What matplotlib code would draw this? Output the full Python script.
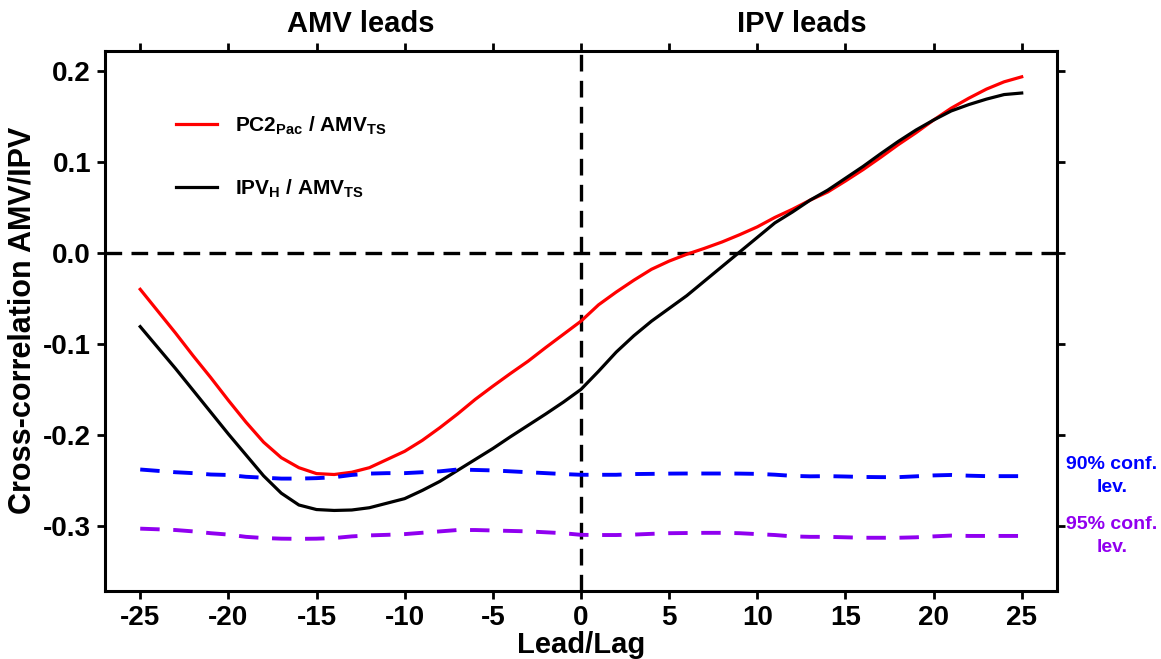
import numpy as np
import matplotlib.pyplot as plt

plt.rcParams['font.family'] = ['Liberation Sans', 'DejaVu Sans']
plt.rcParams['font.weight'] = 'bold'
plt.rcParams['axes.unicode_minus'] = False
plt.rcParams['mathtext.fontset'] = 'custom'
plt.rcParams['mathtext.rm'] = 'Liberation Sans:bold'
plt.rcParams['mathtext.it'] = 'Liberation Sans:bold'
plt.rcParams['mathtext.bf'] = 'Liberation Sans:bold'

# Lead/lag en años
lags = np.arange(-25, 26)

# Correlación cruzada PC2 Pacífico / AMV
pc2_pac = [-0.040, -0.064, -0.088, -0.113, -0.137, -0.162, -0.186, -0.208, -0.225, -0.236,
           -0.2425, -0.2435, -0.241, -0.236, -0.227, -0.218, -0.206, -0.192, -0.177, -0.161,
           -0.1465, -0.1325, -0.119, -0.104, -0.0895, -0.075, -0.057, -0.043, -0.030, -0.018,
           -0.009, -0.0015, 0.005, 0.012, 0.020, 0.0286, 0.039, 0.048, 0.058, 0.067,
           0.079, 0.0915, 0.105, 0.119, 0.132, 0.146, 0.159, 0.170, 0.180, 0.188, 0.1935]

# Correlación cruzada IPV_H / AMV
ipv_h = [-0.081, -0.104, -0.127, -0.151, -0.175, -0.199, -0.222, -0.245, -0.264, -0.277,
         -0.282, -0.283, -0.2825, -0.280, -0.275, -0.270, -0.261, -0.251, -0.239, -0.227,
         -0.215, -0.202, -0.1895, -0.177, -0.164, -0.150, -0.130, -0.109, -0.091, -0.075,
         -0.061, -0.047, -0.031, -0.015, 0.001, 0.017, 0.033, 0.045, 0.058, 0.069,
         0.082, 0.095, 0.109, 0.1225, 0.135, 0.146, 0.156, 0.163, 0.169, 0.174, 0.1757]

# Niveles de confianza
conf90 = [-0.238, -0.2395, -0.241, -0.242, -0.2435, -0.244, -0.246, -0.247, -0.248, -0.248,
          -0.2475, -0.2465, -0.244, -0.2425, -0.242, -0.242, -0.241, -0.240, -0.238, -0.2385,
          -0.239, -0.240, -0.241, -0.242, -0.243, -0.2438, -0.2438, -0.2438, -0.243, -0.2428,
          -0.2425, -0.2424, -0.2424, -0.2424, -0.2425, -0.2428, -0.2437, -0.245, -0.2455, -0.2453,
          -0.2457, -0.2462, -0.2464, -0.2464, -0.2455, -0.2445, -0.244, -0.2448, -0.2453, -0.2453, -0.2453]

conf95 = [-0.303, -0.3037, -0.3045, -0.306, -0.308, -0.3095, -0.312, -0.3133, -0.314, -0.3142,
          -0.314, -0.3133, -0.3115, -0.3104, -0.3098, -0.309, -0.3075, -0.306, -0.3045, -0.3045,
          -0.305, -0.3055, -0.306, -0.307, -0.308, -0.3098, -0.310, -0.310, -0.3095, -0.3087,
          -0.308, -0.3078, -0.3076, -0.3076, -0.308, -0.309, -0.310, -0.3115, -0.312, -0.312,
          -0.3125, -0.313, -0.313, -0.313, -0.3125, -0.3115, -0.3106, -0.311, -0.311, -0.311, -0.311]

xticks = np.arange(-25, 26, 5)
yticks = [-0.3, -0.2, -0.1, 0.0, 0.1, 0.2]

fig = plt.figure(figsize=(11.61, 6.59), dpi=100)
ax = fig.add_axes([0.0904, 0.1032, 0.820, 0.820])

# Líneas de referencia
ax.axhline(0, color='black', lw=2.4, dashes=(5, 2.8))
ax.axvline(0, color='black', lw=2.4, dashes=(5, 2.8))

# Series
ax.plot(lags, pc2_pac, color='#ff0000', lw=2.3, label=r'PC2$_{\rm Pac}$ / AMV$_{\rm TS}$')
ax.plot(lags, ipv_h, color='black', lw=2.3, label=r'IPV$_{\rm H}$ / AMV$_{\rm TS}$')
ax.plot(lags, conf90, color='#0000ff', lw=2.8, dashes=(5, 3.5))
ax.plot(lags, conf95, color='#9000f0', lw=2.8, dashes=(5, 3.5))

ax.set_xlim(-27.0, 27.0)
ax.set_ylim(-0.3715, 0.2223)
ax.set_xticks(xticks)
ax.set_yticks(yticks)
ax.set_yticklabels([f'{v:.1f}' for v in yticks])
ax.tick_params(direction='out', length=6, width=2, labelsize=20, pad=4,
               top=True, right=True, labeltop=False, labelright=False)
for s in ax.spines.values():
    s.set_linewidth(2.2)

ax.set_xlabel('Lead/Lag', fontsize=21, fontweight='bold', labelpad=0)
ax.set_ylabel('Cross-correlation AMV/IPV', fontsize=22, fontweight='bold', labelpad=4)

# Etiquetas superiores
trans = ax.get_xaxis_transform()
ax.text(-12.5, 1.05, 'AMV leads', transform=trans, ha='center', va='center', fontsize=21)
ax.text(12.5, 1.05, 'IPV leads', transform=trans, ha='center', va='center', fontsize=21)

# Etiquetas de confianza
ax.text(30.1, conf90[-1], '90% conf.\nlev.', color='#0000ff', fontsize=14, linespacing=1.5,
        ha='center', va='center', multialignment='center', clip_on=False)
ax.text(30.1, conf95[-1], '95% conf.\nlev.', color='#9000f0', fontsize=14, linespacing=1.5,
        ha='center', va='center', multialignment='center', clip_on=False)

ax.legend(loc='upper left', bbox_to_anchor=(0.0746, 0.882), frameon=False, fontsize=15,
          handlelength=1.95, handletextpad=0.9, labelspacing=1.95, borderpad=0, borderaxespad=0)

fig.savefig('out.png', dpi=100)
